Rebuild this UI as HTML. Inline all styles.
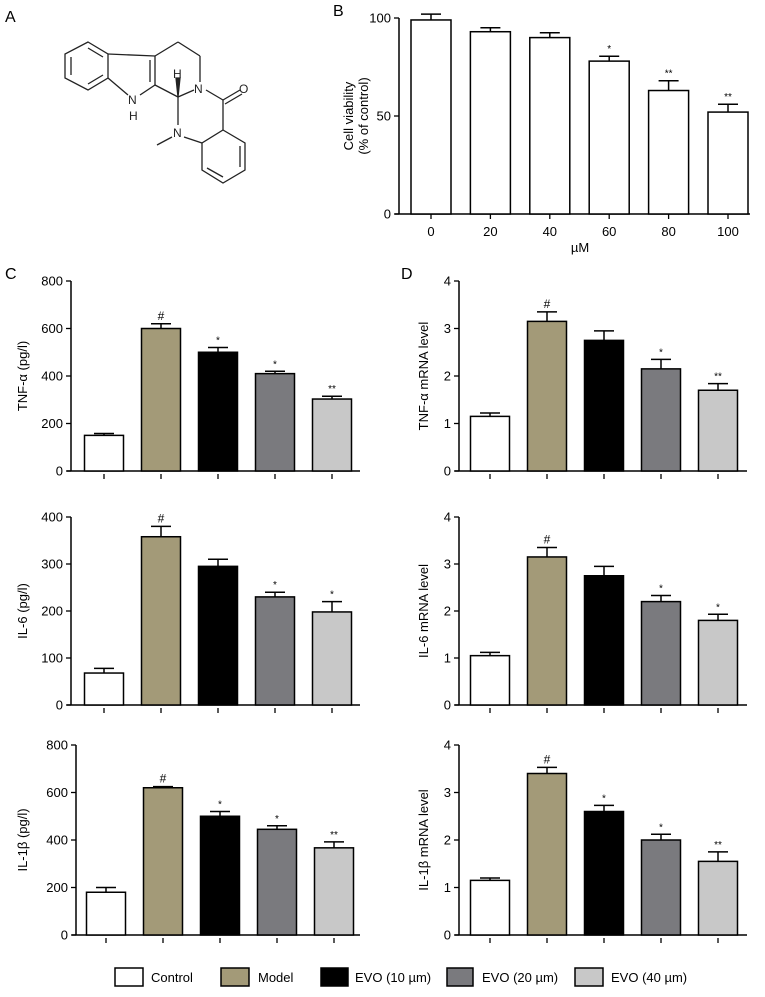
<!DOCTYPE html>
<html><head><meta charset="utf-8"><style>
body{margin:0;background:#fff}
svg{display:block;font-family:"Liberation Sans",Arial,sans-serif}
</style></head><body>
<svg id="fig" width="765" height="997" viewBox="0 0 765 997">
<text x="5" y="22" font-size="16">A</text>
<g stroke="#222" stroke-width="1.3" fill="none">
<polygon points="88,42 108,54 108,78 88,90 65,78 65,54"/>
<line x1="71" y1="57" x2="71" y2="75"/><line x1="88" y1="48" x2="103" y2="57"/><line x1="88" y1="84" x2="103" y2="75"/>
<line x1="108" y1="54" x2="155" y2="56"/><line x1="155" y1="56" x2="155" y2="85"/><line x1="150" y1="60" x2="150" y2="82"/>
<line x1="108" y1="78" x2="128" y2="95"/><line x1="140" y1="95" x2="155" y2="85"/>
<line x1="155" y1="56" x2="178" y2="42"/><line x1="178" y1="42" x2="200" y2="56"/><line x1="200" y1="56" x2="200" y2="82"/>
<line x1="155" y1="85" x2="178" y2="97"/><line x1="178" y1="97" x2="194" y2="90"/>
<polygon points="178,97 176,78 180,78" fill="#222"/>
<line x1="178" y1="97" x2="178" y2="125"/><line x1="172" y1="137" x2="157" y2="145"/>
<line x1="206" y1="90" x2="223" y2="100"/><line x1="223" y1="100" x2="240" y2="90"/><line x1="225" y1="104" x2="242" y2="94"/>
<line x1="223" y1="100" x2="223" y2="130"/>
<polygon points="223,130 245,143 245,170 223,183 202,170 202,143"/>
<line x1="184" y1="137" x2="202" y2="143"/>
<line x1="240" y1="146" x2="240" y2="167"/><line x1="223" y1="177" x2="207" y2="168"/>
</g>
<g font-size="12" fill="#222">
<text x="128" y="104">N</text><text x="129" y="120">H</text><text x="173" y="78">H</text>
<text x="194" y="93">N</text><text x="239" y="93">O</text><text x="173" y="137">N</text>
</g>
<g id="charts"></g>
<g font-size="13">
<rect x="115" y="968" width="28" height="18" fill="#fff" stroke="#000" stroke-width="1.5"/>
<text x="151" y="982">Control</text>
<rect x="221" y="968" width="28" height="18" fill="#a39a78" stroke="#000" stroke-width="1.5"/>
<text x="258" y="982">Model</text>
<rect x="321" y="968" width="27" height="18" fill="#000" stroke="#000" stroke-width="1.5"/>
<text x="355" y="982">EVO (10 µm)</text>
<rect x="447" y="968" width="26" height="18" fill="#7a7a7e" stroke="#000" stroke-width="1.5"/>
<text x="482" y="982">EVO (20 µm)</text>
<rect x="575" y="968" width="28" height="18" fill="#c8c8c8" stroke="#000" stroke-width="1.5"/>
<text x="611" y="982">EVO (40 µm)</text>
</g>
</svg>
<script>
const bDoses = ["0","20","40","60","80","100"];
const bMeans = [99,93,90,78,63,52];
const bErrs = [3,2,2.5,2.5,5,4];
const bMarks = ["","","","*","**","**"];
const bTicks = [0,50,100];

const groupColors = ["#ffffff","#a39a78","#000000","#7a7a7e","#c8c8c8"];
const tnfMeans = [150,600,500,410,303];
const tnfErrs = [8,20,20,10,12];
const tnfMarks = ["","#","*","*","**"];
const il6Means = [68,358,295,230,198];
const il6Errs = [10,22,15,10,22];
const il6Marks = ["","#","","*","*"];
const il1Means = [180,620,500,445,367];
const il1Errs = [20,5,20,15,25];
const il1Marks = ["","#","*","*","**"];
const pgTicks800 = [0,200,400,600,800];
const pgTicks400 = [0,100,200,300,400];
const tnfMrnaMeans = [1.15,3.15,2.75,2.15,1.7];
const tnfMrnaErrs = [0.07,0.2,0.2,0.2,0.14];
const tnfMrnaMarks = ["","#","","*","**"];
const il6MrnaMeans = [1.05,3.15,2.75,2.2,1.8];
const il6MrnaErrs = [0.07,0.2,0.2,0.13,0.13];
const il6MrnaMarks = ["","#","","*","*"];
const il1MrnaMeans = [1.15,3.4,2.6,2.0,1.55];
const il1MrnaErrs = [0.05,0.13,0.13,0.12,0.2];
const il1MrnaMarks = ["","#","*","*","**"];
const mrnaTicks = [0,1,2,3,4];

const NS="http://www.w3.org/2000/svg";
const root=document.getElementById('charts');
function el(tag,attrs,parent,text){const e=document.createElementNS(NS,tag);for(const k in attrs)e.setAttribute(k,attrs[k]);if(text!==undefined)e.textContent=text;(parent||root).appendChild(e);return e;}

function chart(o){
  const g=el('g',{});
  
  
  const ymax=o.ticks[o.ticks.length-1];
  const y=v=>o.y0-(v/ymax)*(o.y0-o.yTop);
  const x=i=>o.x0+o.first+i*o.step;
  // axes
  const ya=el('line',{x1:o.axX,y1:o.yTop,x2:o.axX,y2:o.y0,stroke:'#000','stroke-width':1.5},g);
  
  
  const xa=el('line',{x1:o.axX-4,y1:o.y0,x2:o.xEnd,y2:o.y0,stroke:'#000','stroke-width':1.5},g);
  
  
  o.ticks.forEach(t=>{
    el('line',{x1:o.axX-5,y1:y(t),x2:o.axX,y2:y(t),stroke:'#000','stroke-width':1.3},g);
    const tl=el('text',{x:o.axX-8,y:y(t)+4.5,'text-anchor':'end','font-size':13},g,String(t));
    
    
  });
  o.means.forEach((m,i)=>{
    const cx=x(i),top=y(m),et=y(m+o.errs[i]);
    el('line',{x1:cx,y1:top,x2:cx,y2:et,stroke:'#000','stroke-width':1.5},g);
    el('line',{x1:cx-10,y1:et,x2:cx+10,y2:et,stroke:'#000','stroke-width':1.5},g);
    const b=el('rect',{x:cx-o.bw/2,y:top,width:o.bw,height:o.y0-top,fill:o.colors?o.colors[i]:'#fff',stroke:'#000','stroke-width':1.5},g);
    
    
    if(o.marks[i]){
      const mk=el('text',{x:cx,y:et-4,'text-anchor':'middle','font-size':o.marks[i]=='#'?12:10},g,o.marks[i]);
      
      
    }
    if(o.cats){
      el('line',{x1:cx,y1:o.y0,x2:cx,y2:o.y0+5,stroke:'#000','stroke-width':1.3},g);
      const cl=el('text',{x:cx,y:o.y0+22,'text-anchor':'middle','font-size':13},g,o.cats[i]);
      
      
    } else {
      el('line',{x1:cx,y1:o.y0+3,x2:cx,y2:o.y0+8,stroke:'#000','stroke-width':1.3},g);
    }
  });
  const tx=o.titleX, ty=(o.yTop+o.y0)/2;
  o.title.forEach((t,k)=>{
    const tt=el('text',{x:tx+k*15,y:ty,'text-anchor':'middle','font-size':13,transform:`rotate(-90 ${tx+k*15} ${ty})`},g,t);
    
    
  });
  if(o.label){
    const pl=el('text',{x:o.label[1],y:o.label[2],'font-size':16},g,o.label[0]);
    
    
  }
  return g;
}
chart({name:'cell-viability-chart',axX:399,x0:399,first:32,step:59.4,bw:40,yTop:18,y0:214,xEnd:750,ticks:bTicks,means:bMeans,errs:bErrs,marks:bMarks,cats:bDoses,title:['Cell viability','(% of control)'],titleX:353,label:['B',333,16]});
const xl=el('text',{x:580,y:252,'text-anchor':'middle','font-size':13},root,'µM');


const cBase={axX:71,x0:71,first:33,step:57,bw:39,xEnd:360,colors:groupColors};
const dBase={axX:459,x0:459,first:31,step:57,bw:39,xEnd:747,colors:groupColors};
chart(Object.assign({},cBase,{name:'tnf-protein-chart',yTop:281,y0:471,ticks:pgTicks800,means:tnfMeans,errs:tnfErrs,marks:tnfMarks,title:['TNF-α (pg/l)'],titleX:27,label:['C',5,279]}));
chart(Object.assign({},cBase,{name:'il6-protein-chart',yTop:517,y0:705,ticks:pgTicks400,means:il6Means,errs:il6Errs,marks:il6Marks,title:['IL-6 (pg/l)'],titleX:27}));
chart(Object.assign({},cBase,{name:'il1b-protein-chart',axX:76,x0:73,yTop:745,y0:935,ticks:pgTicks800,means:il1Means,errs:il1Errs,marks:il1Marks,title:['IL-1β (pg/l)'],titleX:27}));
chart(Object.assign({},dBase,{name:'tnf-mrna-chart',yTop:281,y0:471,ticks:mrnaTicks,means:tnfMrnaMeans,errs:tnfMrnaErrs,marks:tnfMrnaMarks,title:['TNF-α mRNA level'],titleX:428,label:['D',401,279]}));
chart(Object.assign({},dBase,{name:'il6-mrna-chart',yTop:517,y0:705,ticks:mrnaTicks,means:il6MrnaMeans,errs:il6MrnaErrs,marks:il6MrnaMarks,title:['IL-6 mRNA level'],titleX:428}));
chart(Object.assign({},dBase,{name:'il1b-mrna-chart',yTop:745,y0:935,ticks:mrnaTicks,means:il1MrnaMeans,errs:il1MrnaErrs,marks:il1MrnaMarks,title:['IL-1β mRNA level'],titleX:428}));
</script>
</body></html>
